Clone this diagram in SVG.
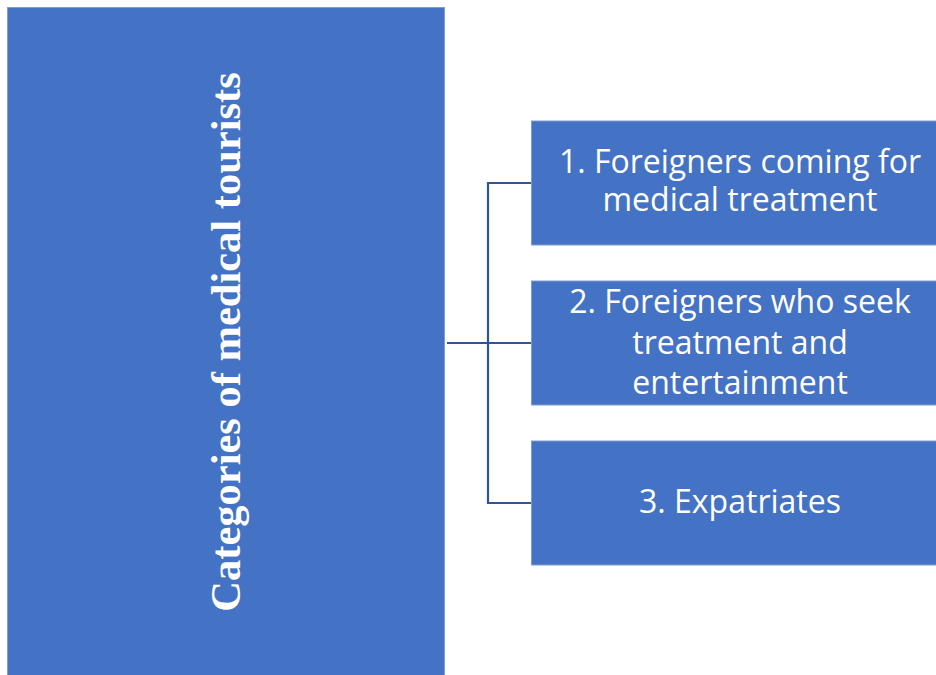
<svg xmlns="http://www.w3.org/2000/svg" width="936" height="675" viewBox="0 0 936 675">
  <style>
    .box { fill: #4472C4; stroke: #7E9DD6; stroke-width: 1; }
    .title { font-family: "Liberation Serif", "Times New Roman", serif; font-weight: bold; font-size: 42.5px; fill: #FFFFFF; text-anchor: middle; }
    .label { font-family: "Open Sans", "Noto Sans", "Liberation Sans", sans-serif; font-size: 32px; fill: #FFFFFF; text-anchor: middle; }
    .link { fill: none; stroke: #2F5597; stroke-width: 2.2; }
  </style>
  <rect width="936" height="675" fill="#FFFFFF"/>

  <!-- root category -->
  <g id="root">
    <rect class="box" x="7.5" y="7.5" width="437" height="680"/>
    <text class="title" transform="translate(240,342) rotate(-90)">Categories of medical tourists</text>
  </g>

  <!-- bracket connectors -->
  <g id="connectors">
    <path class="link" d="M447,343 H531"/>
    <path class="link" d="M531,183 H488 V503 H531"/>
  </g>

  <g id="item1">
    <rect class="box" x="531.5" y="121" width="420" height="124"/>
    <text class="label" x="740" y="173">1. Foreigners coming for</text>
    <text class="label" x="740" y="211">medical treatment</text>
  </g>

  <g id="item2">
    <rect class="box" x="531.5" y="281" width="420" height="124"/>
    <text class="label" x="740" y="313">2. Foreigners who seek</text>
    <text class="label" x="740" y="353.5">treatment and</text>
    <text class="label" x="740" y="394">entertainment</text>
  </g>

  <g id="item3">
    <rect class="box" x="531.5" y="441" width="420" height="124"/>
    <text class="label" x="740" y="513">3. Expatriates</text>
  </g>
</svg>
